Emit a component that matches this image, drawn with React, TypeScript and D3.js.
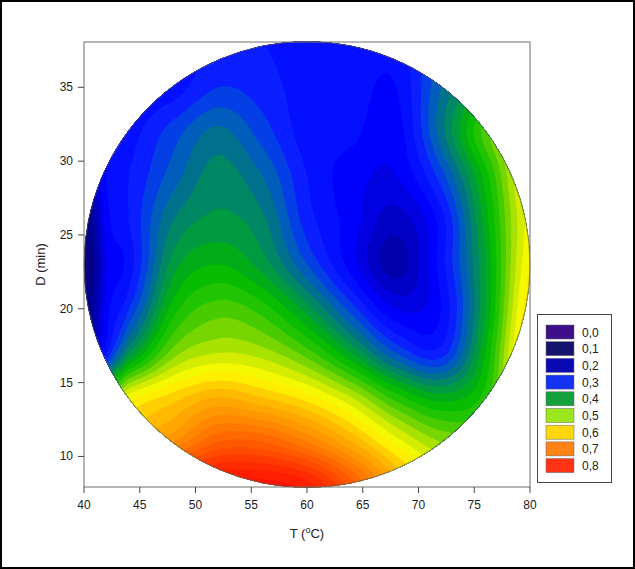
import React, { useMemo } from 'react';
import * as d3 from 'd3';

// grid: columns are T (°C), rows are D (min)
const tempGrid = [40, 42, 44, 48, 52, 56, 60, 64, 68, 72, 76, 80];
const timeGrid = [8, 11, 14, 17, 20, 23, 26, 29, 32, 35, 38];

const rowD8 = [0.68, 0.74, 0.78, 0.83, 0.85, 0.85, 0.83, 0.75, 0.65, 0.58, 0.58, 0.64];
const rowD11 = [0.55, 0.61, 0.64, 0.68, 0.74, 0.74, 0.7, 0.64, 0.57, 0.52, 0.52, 0.62];
const rowD14 = [0.35, 0.48, 0.57, 0.61, 0.64, 0.62, 0.59, 0.54, 0.47, 0.43, 0.47, 0.62];
const rowD17 = [0.2, 0.3, 0.4, 0.51, 0.54, 0.53, 0.49, 0.42, 0.34, 0.31, 0.44, 0.62];
const rowD20 = [0.15, 0.27, 0.32, 0.45, 0.49, 0.47, 0.41, 0.33, 0.26, 0.28, 0.42, 0.6];
const rowD23 = [0.12, 0.26, 0.29, 0.41, 0.44, 0.41, 0.34, 0.27, 0.21, 0.29, 0.42, 0.58];
const rowD26 = [0.15, 0.27, 0.3, 0.38, 0.405, 0.385, 0.31, 0.27, 0.23, 0.29, 0.43, 0.57];
const rowD29 = [0.2, 0.28, 0.3, 0.35, 0.39, 0.36, 0.3, 0.27, 0.26, 0.33, 0.45, 0.58];
const rowD32 = [0.23, 0.27, 0.29, 0.33, 0.365, 0.33, 0.29, 0.285, 0.27, 0.37, 0.49, 0.58];
const rowD35 = [0.24, 0.27, 0.28, 0.29, 0.32, 0.31, 0.29, 0.29, 0.28, 0.36, 0.44, 0.55];
const rowD38 = [0.25, 0.27, 0.28, 0.29, 0.3, 0.3, 0.29, 0.29, 0.29, 0.34, 0.42, 0.52];

const responseRows = [rowD8, rowD11, rowD14, rowD17, rowD20, rowD23, rowD26, rowD29, rowD32, rowD35, rowD38];

const xTicks = [40, 45, 50, 55, 60, 65, 70, 75, 80];
const yTicks = [10, 15, 20, 25, 30, 35];

const legendLabels = ['0,0', '0,1', '0,2', '0,3', '0,4', '0,5', '0,6', '0,7', '0,8'];
const legendColors = ['#3f0f8a', '#14146e', '#0a0ab4', '#1432f0', '#14a03c', '#9be61e', '#ffd70a', '#ff8214', '#ff3214'];

// colour ramp of the filled bands
const rampStops = [0, 0.1, 0.16, 0.2, 0.24, 0.27, 0.31, 0.34, 0.36, 0.38, 0.4, 0.42, 0.44, 0.46, 0.48, 0.5, 0.52, 0.54, 0.56, 0.58, 0.6, 0.62, 0.64, 0.66, 0.68, 0.7, 0.74, 0.78, 0.82, 0.86];
const rampColors = ['#3c0a8c', '#1a0a78', '#000088', '#0000a0', '#0000d2', '#0000ff', '#0a1eff', '#0050d8', '#006aa0', '#007878', '#009650', '#00a030', '#00b800', '#10c000', '#30c800', '#60d000', '#90dc00', '#c0e800', '#e8f000', '#ffff00', '#ffdc00', '#ffc300', '#ffaf00', '#ff9f00', '#ff9000', '#ff8000', '#ff6000', '#ff4200', '#ff2400', '#ff0c00'];

const W = 635;
const H = 569;
const left = 84;
const right = 530;
const top = 42;
const bottom = 487;
const font = '"Liberation Sans", Arial, sans-serif';

const cr = (p0: number, p1: number, p2: number, p3: number, t: number) =>
  0.5 * (2 * p1 + (-p0 + p2) * t + (2 * p0 - 5 * p1 + 4 * p2 - p3) * t * t + (-p0 + 3 * p1 - 3 * p2 + p3) * t * t * t);

// smooth (Catmull-Rom) lookup in the read grid, by fractional grid index
function sample(gx: number, gy: number) {
  const nx = tempGrid.length;
  const ny = timeGrid.length;
  gx = Math.max(0, Math.min(nx - 1, gx));
  gy = Math.max(0, Math.min(ny - 1, gy));
  const ix = Math.min(nx - 2, Math.floor(gx));
  const iy = Math.min(ny - 2, Math.floor(gy));
  const tx = gx - ix;
  const ty = gy - iy;
  const cx = (i: number) => Math.max(0, Math.min(nx - 1, i));
  const cy = (j: number) => Math.max(0, Math.min(ny - 1, j));
  const rowVals = [-1, 0, 1, 2].map((dj) => {
    const r = responseRows[cy(iy + dj)];
    return cr(r[cx(ix - 1)], r[cx(ix)], r[cx(ix + 1)], r[cx(ix + 2)], tx);
  });
  return cr(rowVals[0], rowVals[1], rowVals[2], rowVals[3], ty);
}

export default function App() {
  const x = d3.scaleLinear().domain([40, 80]).range([left, right]);
  const y = d3.scaleLinear().domain([7.93, 38.07]).range([bottom, top]);
  const color = d3.scaleLinear<string>().domain(rampStops).range(rampColors).interpolate(d3.interpolateRgb).clamp(true);
  const tIndex = d3.scaleLinear().domain(tempGrid).range(d3.range(tempGrid.length)).clamp(true);
  const dIndex = d3.scaleLinear().domain(timeGrid).range(d3.range(timeGrid.length)).clamp(true);

  const step = 2;
  const nx = Math.ceil((right - left) / step) + 1;
  const ny = Math.ceil((bottom - top) / step) + 1;

  const bands = useMemo(() => {
    const values = new Array(nx * ny);
    for (let j = 0; j < ny; j++) {
      const gy = dIndex(y.invert(top + j * step));
      for (let i = 0; i < nx; i++) {
        const gx = tIndex(x.invert(left + i * step));
        values[j * nx + i] = sample(gx, gy);
      }
    }
    const thresholds = d3.range(0, 0.92, 0.02);
    return d3.contours().size([nx, ny]).thresholds(thresholds)(values);
  }, []);

  const path = d3.geoPath();
  const cxp = x(60);
  const cyp = y(23);
  const radius = x(80) - x(60);

  return (
    <svg width={W} height={H} style={{ position: 'absolute', left: 0, top: 0, background: '#fff' }}>
      <rect x={1} y={1} width={W - 2} height={H - 2} fill="#fff" stroke="#000" strokeWidth={2} />
      <defs>
        <clipPath id="disk">
          <circle cx={cxp} cy={cyp} r={radius} />
        </clipPath>
      </defs>
      <g clipPath="url(#disk)">
        <g transform={`translate(${left - step / 2},${top - step / 2}) scale(${step})`}>
          {bands.map((c, k) => (
            <path key={k} d={path(c) || ''} fill={color(c.value + 0.01)} />
          ))}
        </g>
      </g>
      <circle cx={cxp} cy={cyp} r={radius} fill="none" stroke="#5a5a5a" strokeWidth={0.7} />
      <rect x={left} y={top} width={right - left} height={bottom - top} fill="none" stroke="#6e6e6e" strokeWidth={1} />
      {xTicks.map((t) => (
        <g key={t}>
          <line x1={x(t)} x2={x(t)} y1={bottom} y2={bottom + 6} stroke="#444" />
          <text x={x(t)} y={bottom + 22} textAnchor="middle" fontSize={12} fontFamily={font} fill="#222">{t}</text>
        </g>
      ))}
      {yTicks.map((t) => (
        <g key={t}>
          <line x1={left - 6} x2={left} y1={y(t)} y2={y(t)} stroke="#444" />
          <text x={left - 11} y={y(t) + 4} textAnchor="end" fontSize={12} fontFamily={font} fill="#222">{t}</text>
        </g>
      ))}
      <text x={307} y={538} textAnchor="middle" fontSize={13} fontFamily={font} fill="#222">
        T (<tspan fontSize={9} dy={-5}>o</tspan><tspan dy={5}>C)</tspan>
      </text>
      <text transform={`translate(45,${(top + bottom) / 2}) rotate(-90)`} textAnchor="middle" fontSize={13} fontFamily={font} fill="#222">
        D (min)
      </text>
      <rect x={537.5} y={314.5} width={74} height={168} fill="#fff" stroke="#444" strokeWidth={1} />
      {legendLabels.map((lab, i) => (
        <g key={lab}>
          <rect x={546} y={325 + i * 16.7} width={28} height={14} fill={legendColors[i]} stroke="#666" strokeWidth={0.5} />
          <text x={582} y={325 + i * 16.7 + 11.5} fontSize={12} fontFamily={font} fill="#222">{lab}</text>
        </g>
      ))}
    </svg>
  );
}
